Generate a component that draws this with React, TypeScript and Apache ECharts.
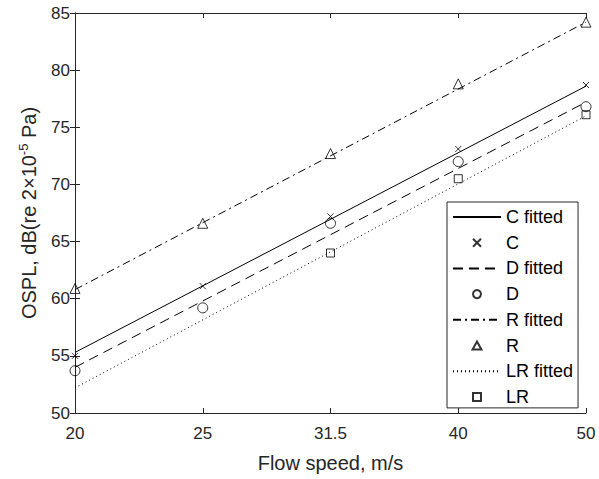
import React, { useEffect, useRef } from "react";
import * as echarts from "echarts";

// Flow speeds (equally spaced on the axis)
const speedLabels = ["20", "25", "31.5", "40", "50"];

// Measured OSPL, dB
const cMeasured: (number | null)[] = [55.0, 61.1, 67.2, 73.1, 78.7];
const dMeasured: (number | null)[] = [53.7, 59.2, 66.6, 72.0, 76.8];
const rMeasured: (number | null)[] = [60.9, 66.6, 72.7, 78.8, 84.2];
const lrMeasured: (number | null)[] = [null, null, 64.0, 70.5, 76.1];

// Fitted lines: values at 20 m/s and 50 m/s
const cFitted = [55.3, 78.6];
const dFitted = [54.0, 77.2];
const rFitted = [60.8, 84.2];
const lrFitted = [52.2, 76.0];

const FONT = 'Arial, "Liberation Sans", sans-serif';
const TEXT = "#262626";

const toPoints = (vals: (number | null)[]) =>
  vals
    .map((v, i) => (v == null ? null : [i, v]))
    .filter((p) => p !== null) as number[][];

const fitLine = (ends: number[]) => [
  [0, ends[0]],
  [speedLabels.length - 1, ends[1]],
];

const lineSeries = (name: string, ends: number[], type: any) => ({
  name,
  type: "line",
  data: fitLine(ends),
  symbol: "none",
  showSymbol: false,
  lineStyle: { color: "#000", width: 1, type },
  // the legend shows only the line sample, no marker
  itemStyle: { color: "#000", opacity: 0 },
  z: 2,
});

const markSeries = (name: string, vals: (number | null)[], symbol: string, size: number) => ({
  name,
  type: "scatter",
  data: toPoints(vals),
  symbol,
  symbolSize: size,
  itemStyle: { color: "rgba(0,0,0,0)", borderColor: "#000", borderWidth: 1 },
  z: 3,
});

const CROSS = "path://M0,0L10,10M10,0L0,10";
const TRIANGLE = "path://M5,0L10,9L0,9Z";
const SQUARE = "path://M0,0L10,0L10,10L0,10Z";

export default function App() {
  const ref = useRef<HTMLDivElement>(null);

  useEffect(() => {
    document.body.style.margin = "0";
    const chart = echarts.init(ref.current!, null, { renderer: "svg" });

    const axisCommon = {
      axisLine: { show: true, lineStyle: { color: TEXT, width: 1 } },
      axisTick: { show: true, inside: true, length: 5, lineStyle: { color: TEXT } },
      splitLine: { show: false },
    };

    chart.setOption({
      animation: false,
      backgroundColor: "#fff",
      textStyle: { fontFamily: FONT },
      grid: { left: 75, right: 13, top: 13, bottom: 66 },
      xAxis: [
        {
          type: "value",
          min: 0,
          max: speedLabels.length - 1,
          interval: 1,
          position: "bottom",
          ...axisCommon,
          axisLabel: {
            color: TEXT,
            fontSize: 17,
            fontFamily: FONT,
            margin: 12,
            formatter: (v: number) => speedLabels[v] ?? "",
          },
          name: "Flow speed, m/s",
          nameLocation: "middle",
          nameGap: 40,
          nameTextStyle: { color: TEXT, fontSize: 20, fontFamily: FONT },
        },
        {
          type: "value",
          min: 0,
          max: speedLabels.length - 1,
          interval: 1,
          position: "top",
          ...axisCommon,
          axisLabel: { show: false },
        },
      ],
      yAxis: [
        {
          type: "value",
          min: 50,
          max: 85,
          interval: 5,
          position: "left",
          ...axisCommon,
          axisLabel: { color: TEXT, fontSize: 17, fontFamily: FONT, margin: 5 },
          name: "OSPL, dB(re 2×10{sup|-5} Pa)",
          nameLocation: "middle",
          nameGap: 35,
          nameTextStyle: {
            color: TEXT,
            fontSize: 20,
            fontFamily: FONT,
            rich: {
              sup: { fontSize: 13, color: TEXT, fontFamily: FONT, verticalAlign: "top", padding: [0, 0, 10, 0] },
            },
          },
        },
        {
          type: "value",
          min: 50,
          max: 85,
          interval: 5,
          position: "right",
          ...axisCommon,
          axisLabel: { show: false },
        },
      ],
      legend: {
        orient: "vertical",
        left: 447,
        top: 202,
        itemWidth: 48,
        itemHeight: 8,
        itemGap: 7.7,
        padding: [6, 5, 2, 5],
        borderColor: "#262626",
        borderWidth: 1,
        backgroundColor: "#fff",
        textStyle: { color: "#000", fontSize: 18, fontFamily: FONT, lineHeight: 18 },
        data: ["C fitted", "C", "D fitted", "D", "R fitted", "R", "LR fitted", "LR"],
      },
      series: [
        lineSeries("C fitted", cFitted, "solid"),
        markSeries("C", cMeasured, CROSS, 6),
        lineSeries("D fitted", dFitted, [10, 6]),
        markSeries("D", dMeasured, "circle", 10),
        lineSeries("R fitted", rFitted, [8, 4, 2, 4]),
        markSeries("R", rMeasured, TRIANGLE, 10),
        lineSeries("LR fitted", lrFitted, [1, 3]),
        markSeries("LR", lrMeasured, SQUARE, 8),
      ],
    });

    return () => chart.dispose();
  }, []);

  return <div ref={ref} style={{ width: 599, height: 479 }} />;
}
